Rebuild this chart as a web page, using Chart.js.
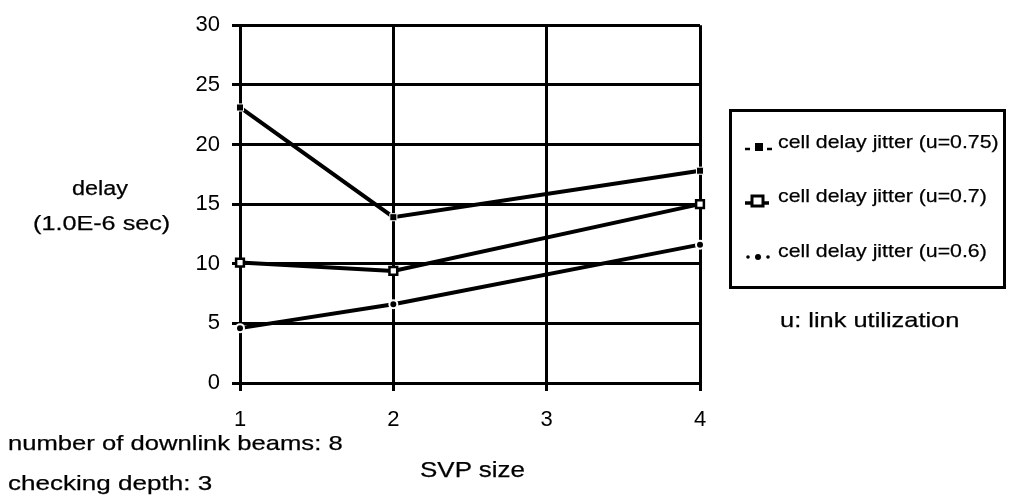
<!DOCTYPE html>
<html>
<head>
<meta charset="utf-8">
<script src="https://cdn.jsdelivr.net/npm/chart.js@4.4.0/dist/chart.umd.min.js"></script>
<style>
  body { margin: 0; background: #fff; font-family: "Liberation Sans", Arial, sans-serif; color: #000; }
  #wrap { position: relative; width: 1012px; height: 499px; }
  #chart { position: absolute; left: 0; top: 0; }
  .txt { position: absolute; white-space: nowrap; line-height: 1; transform-origin: 0 0; -webkit-text-stroke: 0.25px #000; }
  #legend { position: absolute; left: 729px; top: 109px; width: 277px; height: 180px; border: 3px solid #000; box-sizing: border-box; }
  #legend svg { position: absolute; }
</style>
</head>
<body>
<div id="wrap">
  <canvas id="chart" width="1012" height="499"></canvas>
  <div class="txt" style="left:72px;top:178px;font-size:20px;transform:scaleX(1.17);">delay</div>
  <div class="txt" style="left:33px;top:212px;font-size:21px;transform:scaleX(1.2);">(1.0E-6 sec)</div>
  <div class="txt" style="left:420px;top:459px;font-size:22px;transform:scaleX(1.18);">SVP size</div>
  <div class="txt" style="left:8px;top:432px;font-size:21px;transform:scaleX(1.22);">number of downlink beams: 8</div>
  <div class="txt" style="left:8px;top:472px;font-size:21px;transform:scaleX(1.24);">checking depth: 3</div>
  <div class="txt" style="left:780px;top:309px;font-size:21px;transform:scaleX(1.21);">u: link utilization</div>
  <div id="legend">
    <svg style="left:12px;top:29px;" width="30" height="14"><line x1="1" y1="8" x2="6" y2="8" stroke="#000" stroke-width="2.5"/><line x1="23" y1="8" x2="28" y2="8" stroke="#000" stroke-width="2.5"/><rect x="11" y="2" width="8" height="8" fill="#000"/></svg>
    <div class="txt" style="left:46px;top:20px;font-size:19px;transform:scaleX(1.12);">cell delay jitter (u=0.75)</div>
    <svg style="left:12px;top:82px;" width="30" height="15"><line x1="1" y1="9" x2="25" y2="9" stroke="#000" stroke-width="3.5"/><rect x="8" y="2" width="11" height="10" fill="#fff" stroke="#000" stroke-width="3"/></svg>
    <div class="txt" style="left:46px;top:74px;font-size:19px;transform:scaleX(1.12);">cell delay jitter (u=0.7)</div>
    <svg style="left:12px;top:137px;" width="30" height="14"><circle cx="4" cy="8" r="1.8" fill="#000"/><circle cx="14" cy="8" r="3" fill="#000"/><circle cx="24" cy="8" r="1.8" fill="#000"/></svg>
    <div class="txt" style="left:46px;top:129px;font-size:19px;transform:scaleX(1.12);">cell delay jitter (u=0.6)</div>
  </div>
</div>
<script>
// SVP size on the x axis (no measurement at 3)
const svpSize = [1, 2, 4];
const jitter075 = [23.1, 13.9, 17.8];
const jitter070 = [10.1, 9.4, 15.0];
const jitter060 = [4.6, 6.6, 11.6];
const yTicks = [0, 5, 10, 15, 20, 25, 30];
const xTicks = [1, 2, 3, 4];

function toPoints(ys) {
  return svpSize.map((x, i) => ({ x: x, y: ys[i] }));
}

const ctx = document.getElementById("chart").getContext("2d");
new Chart(ctx, {
  type: "line",
  data: {
    datasets: [
      {
        label: "cell delay jitter (u=0.75)",
        data: toPoints(jitter075),
        borderColor: "#000",
        borderWidth: 4,
        clip: false,
        pointStyle: "rect",
        pointRadius: 5,
        pointBackgroundColor: "#000",
        pointBorderColor: "#fff",
        pointBorderWidth: 1,
      },
      {
        label: "cell delay jitter (u=0.7)",
        data: toPoints(jitter070),
        borderColor: "#000",
        borderWidth: 4,
        clip: false,
        pointStyle: "rect",
        pointRadius: 5.5,
        pointBackgroundColor: "#fff",
        pointBorderColor: "#000",
        pointBorderWidth: 2.5,
      },
      {
        label: "cell delay jitter (u=0.6)",
        data: toPoints(jitter060),
        borderColor: "#000",
        borderWidth: 4,
        clip: false,
        pointStyle: "circle",
        pointRadius: 4,
        pointBackgroundColor: "#000",
        pointBorderColor: "#fff",
        pointBorderWidth: 2,
      },
    ],
  },
  options: {
    responsive: false,
    animation: false,
    layout: { autoPadding: false, padding: { left: 170, right: 312, top: 23, bottom: 0 } },
    plugins: { legend: { display: false }, tooltip: { enabled: false } },
    scales: {
      x: {
        type: "linear",
        min: 1,
        max: 4,
        afterBuildTicks: (s) => { s.ticks = xTicks.map((v) => ({ value: v })); },
        afterFit: (s) => { s.height = 116; },
        grid: { color: "#000", lineWidth: 3, tickLength: 8 },
        border: { color: "#000", width: 3 },
        ticks: { color: "#000", padding: 16, font: { family: "Liberation Sans", size: 22 } },
      },
      y: {
        min: 0,
        max: 30,
        afterBuildTicks: (s) => { s.ticks = yTicks.map((v) => ({ value: v })); },
        afterFit: (s) => { s.width = 70; },
        grid: { color: "#000", lineWidth: 3, tickLength: 8 },
        border: { color: "#000", width: 3 },
        ticks: { color: "#000", padding: 12, font: { family: "Liberation Sans", size: 22 } },
      },
    },
  },
});
</script>
</body>
</html>
